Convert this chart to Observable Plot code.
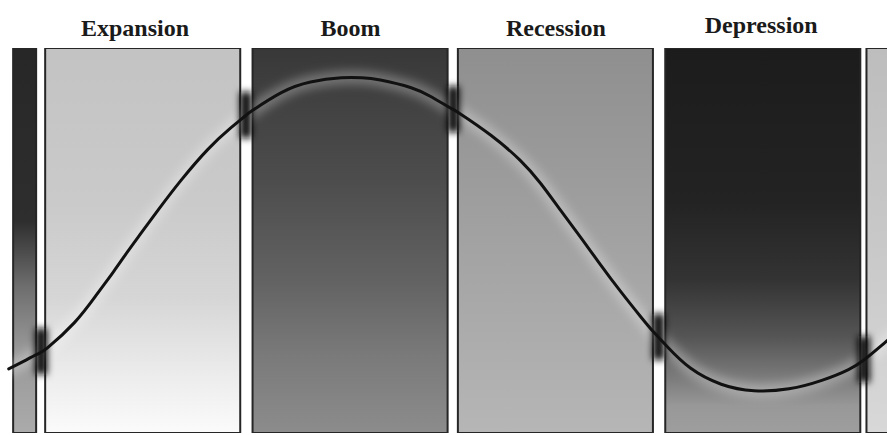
<!DOCTYPE html>
<html>
<head>
<meta charset="utf-8">
<script src="https://cdn.jsdelivr.net/npm/d3@7"></script>
<script src="https://cdn.jsdelivr.net/npm/@observablehq/plot@0.6"></script>
<style>
  html, body { margin: 0; padding: 0; background: #fff; overflow: hidden; }
</style>
</head>
<body>
<div id="chart"></div>
<script>
// ---- Data (time in cycle-phase units, level as index 0–100) ----
const phases = ["Expansion", "Boom", "Recession", "Depression"];
const titleTime = [0.435, 1.485, 2.485, 3.485];
// panels: partial strip on the left, the four phases, partial strip on the right
const panelStart = [-0.156, 0, 1.01, 2.01, 3.02, 4.0];
const panelEnd   = [-0.044, 0.95, 1.96, 2.96, 3.97, 4.95];
const panelPhase = ["Depression", "Expansion", "Boom", "Recession", "Depression", "Expansion"];
// phase boundaries (gaps between panels)
const gapTime = [-0.022, 0.975, 1.985, 2.985, 3.985];
// business-cycle curve
const curveTime  = [-0.18, -0.12, -0.04, 0.01, 0.14, 0.25, 0.33, 0.40, 0.46, 0.55, 0.66, 0.79, 0.90, 0.97, 1.01, 1.15, 1.29, 1.44, 1.54, 1.63, 1.78, 1.88, 1.97, 2.02, 2.17, 2.31, 2.41, 2.51, 2.61, 2.70, 2.80, 2.90, 2.96, 3.03, 3.14, 3.29, 3.45, 3.62, 3.78, 3.91, 3.99, 4.07, 4.12];
const curveLevel = [16.8, 18.4, 20.6, 22.3, 28.8, 36.2, 42.0, 47.3, 51.7, 58.2, 65.8, 73.8, 79.3, 82.4, 84.0, 88.6, 91.3, 92.4, 92.4, 91.8, 89.8, 87.4, 84.6, 83.0, 77.4, 71.0, 65.0, 57.8, 50.6, 44.0, 36.9, 30.2, 26.4, 22.4, 17.0, 12.8, 11.1, 11.6, 13.8, 16.6, 19.3, 22.8, 25.2];

// ---- Styling (vertical shading of each panel, top -> bottom) ----
const shading = [
  [[0, "#272727"], [0.45, "#2e2e2e"], [0.62, "#6e6e6e"], [0.78, "#979797"], [1, "#ababab"]],
  [[0, "#c3c3c3"], [0.4, "#cacaca"], [0.65, "#d6d6d6"], [0.85, "#ececec"], [1, "#fbfbfb"]],
  [[0, "#383838"], [0.15, "#424242"], [0.35, "#4d4d4d"], [0.6, "#626262"], [0.8, "#7a7a7a"], [1, "#8c8c8c"]],
  [[0, "#8f8f8f"], [0.3, "#9a9a9a"], [0.6, "#a6a6a6"], [1, "#b6b6b6"]],
  [[0, "#1c1c1c"], [0.4, "#232323"], [0.6, "#333333"], [0.75, "#555555"], [0.86, "#7c7c7c"], [0.93, "#989898"], [1, "#9e9e9e"]],
  [[0, "#bdbdbd"], [0.5, "#c8c8c8"], [1, "#d8d8d8"]]
];

// ---- Build tables ----
const panels = panelStart.map((s, i) => ({start: s, end: panelEnd[i], phase: panelPhase[i], idx: i}));
const curve = curveTime.map((t, i) => ({t, level: curveLevel[i]}));
const titles = phases.map((p, i) => ({phase: p, t: titleTime[i]}));
function levelAt(t) {
  for (let i = 1; i < curve.length; i++) {
    if (t <= curve[i].t) {
      const a = curve[i - 1], b = curve[i];
      return a.level + (b.level - a.level) * (t - a.t) / (b.t - a.t);
    }
  }
  return curve[curve.length - 1].level;
}
const gaps = gapTime.map(t => ({t, level: levelAt(t)}));

const serif = "'Liberation Serif', 'DejaVu Serif', serif";

const svg = Plot.plot({
  width: 887,
  height: 435,
  marginLeft: 0,
  marginRight: 0,
  marginTop: 48,
  marginBottom: 2,
  x: {domain: [-0.22, 4.10], axis: null},
  y: {domain: [0, 100], axis: null},
  style: {background: "#ffffff", overflow: "hidden"},
  marks: [
    ...panels.map(p => Plot.rect([p], {
      x1: "start", x2: "end", y1: 0, y2: 100,
      fill: `url(#shade${p.idx})`, stroke: "#262626", strokeWidth: 2, clip: true
    })),
    Plot.line(curve, {x: "t", y: "level", curve: "natural", stroke: "#ffffff", strokeWidth: 14, strokeOpacity: 0.28, clip: true, ariaDescription: "halo"}),
    Plot.ruleX(gaps, {x: "t", y1: d => d.level - 6, y2: d => d.level + 6, stroke: "#111111", strokeWidth: 12, ariaDescription: "blob"}),
    Plot.line(curve, {x: "t", y: "level", curve: "natural", stroke: "#111111", strokeWidth: 3, clip: true}),
    Plot.text(titles.filter(d => d.phase !== "Depression"), {x: "t", y: 100, text: "phase", lineAnchor: "bottom", dy: -13, fontFamily: serif, fontWeight: "bold", fontSize: 24, fill: "#1a1a1a"}),
    Plot.text(titles.filter(d => d.phase === "Depression"), {x: "t", y: 100, text: "phase", lineAnchor: "bottom", dy: -16, fontFamily: serif, fontWeight: "bold", fontSize: 24, fill: "#1a1a1a"})
  ]
});

// gradient and blur definitions
const ns = "http://www.w3.org/2000/svg";
const defs = document.createElementNS(ns, "defs");
shading.forEach((stops, i) => {
  const g = document.createElementNS(ns, "linearGradient");
  g.setAttribute("id", `shade${i}`);
  g.setAttribute("x1", "0"); g.setAttribute("y1", "0");
  g.setAttribute("x2", "0"); g.setAttribute("y2", "1");
  stops.forEach(([o, c]) => {
    const s = document.createElementNS(ns, "stop");
    s.setAttribute("offset", o);
    s.setAttribute("stop-color", c);
    g.appendChild(s);
  });
  defs.appendChild(g);
});
function blurFilter(id, sd) {
  const f = document.createElementNS(ns, "filter");
  f.setAttribute("id", id);
  f.setAttribute("x", "-100%"); f.setAttribute("y", "-100%");
  f.setAttribute("width", "300%"); f.setAttribute("height", "300%");
  const b = document.createElementNS(ns, "feGaussianBlur");
  b.setAttribute("stdDeviation", sd);
  f.appendChild(b);
  defs.appendChild(f);
}
blurFilter("blurBlob", 3.5);
blurFilter("blurHalo", 5);
svg.insertBefore(defs, svg.firstChild);
svg.querySelectorAll('[aria-description="blob"]').forEach(g => g.setAttribute("filter", "url(#blurBlob)"));
svg.querySelectorAll('[aria-description="halo"]').forEach(g => g.setAttribute("filter", "url(#blurHalo)"));

document.getElementById("chart").appendChild(svg);
</script>
</body>
</html>
